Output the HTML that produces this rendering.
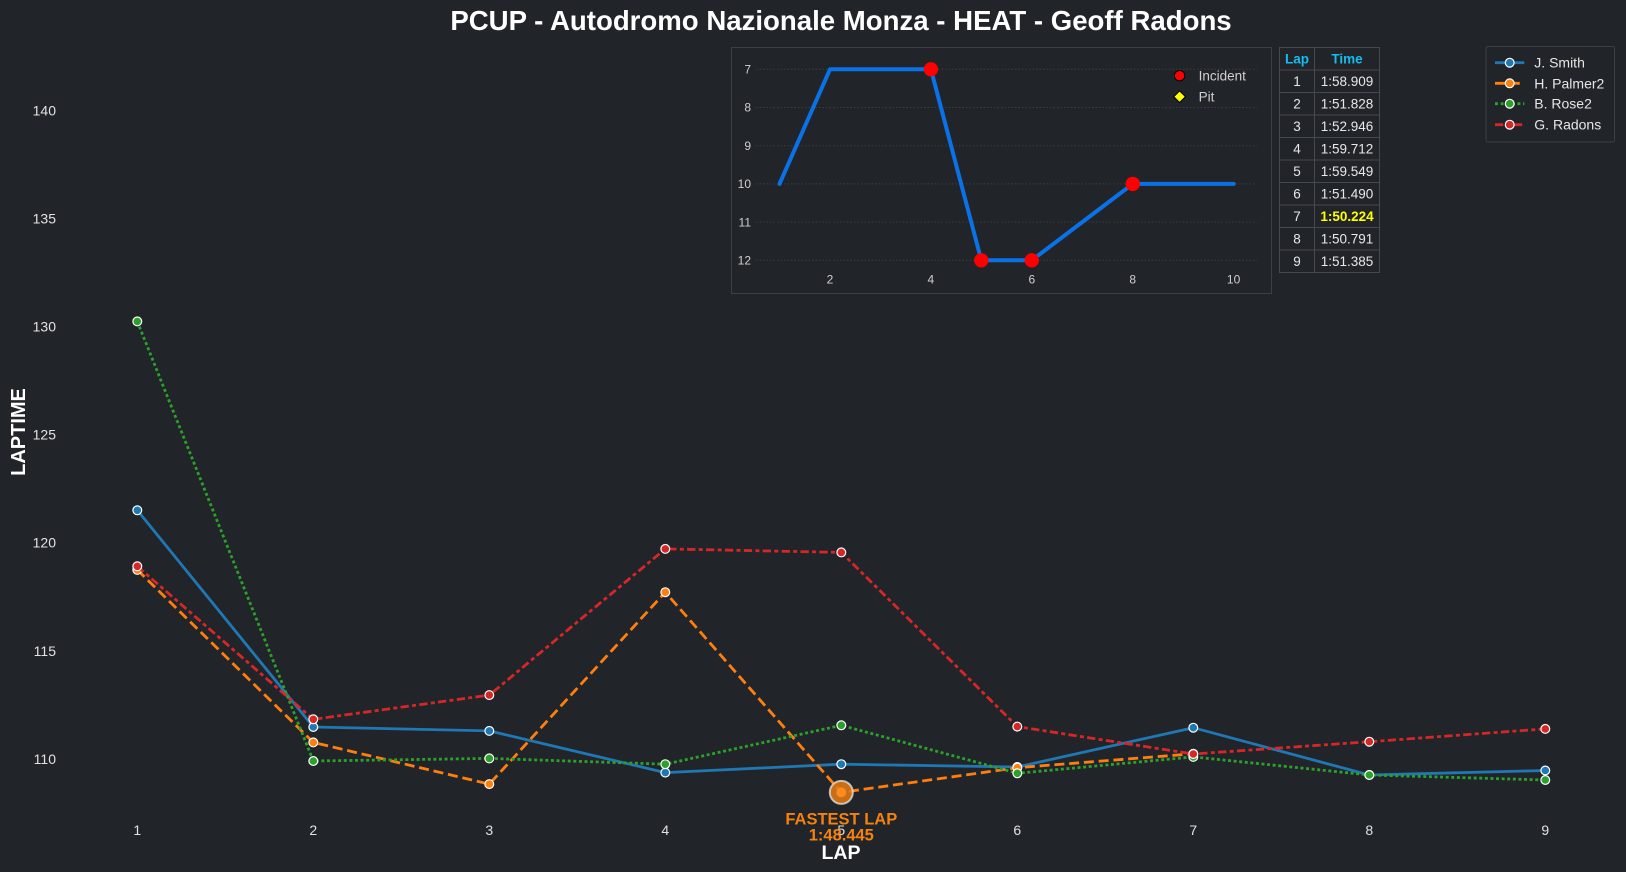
<!DOCTYPE html>
<html><head><meta charset="utf-8"><style>
html,body{margin:0;padding:0;background:#212428;}
svg{display:block;}
text{font-family:"Liberation Sans",Arial,sans-serif;}
</style></head><body>
<svg width="1626" height="872" viewBox="0 0 1626 872" xmlns="http://www.w3.org/2000/svg">
<rect x="0" y="0" width="1626" height="872" fill="#212428"/>
<!-- Title -->
<text x="841" y="30" text-anchor="middle" font-size="27.6" font-weight="bold" fill="#ffffff">PCUP - Autodromo Nazionale Monza - HEAT - Geoff Radons</text>

<!-- Y tick labels -->
<g font-size="14" fill="#e2e2e2" text-anchor="end">
<text x="56" y="763.8">110</text>
<text x="56" y="655.8">115</text>
<text x="56" y="547.7">120</text>
<text x="56" y="439.7">125</text>
<text x="56" y="331.6">130</text>
<text x="56" y="223.6">135</text>
<text x="56" y="115.5">140</text>
</g>
<!-- X tick labels -->
<g font-size="14" fill="#e2e2e2" text-anchor="middle">
<text x="137.3" y="835">1</text>
<text x="313.3" y="835">2</text>
<text x="489.3" y="835">3</text>
<text x="665.3" y="835">4</text>
<text x="841.3" y="835">5</text>
<text x="1017.3" y="835">6</text>
<text x="1193.3" y="835">7</text>
<text x="1369.3" y="835">8</text>
<text x="1545.3" y="835">9</text>
</g>
<text x="841" y="859" text-anchor="middle" font-size="19.5" font-weight="bold" fill="#ffffff">LAP</text>
<text x="25" y="432" text-anchor="middle" font-size="20" font-weight="bold" fill="#ffffff" transform="rotate(-90 25 432)">LAPTIME</text>

<!-- Series: J. Smith -->
<g>
<polyline fill="none" stroke="#1f77b4" stroke-width="2.8" stroke-linejoin="round" points="137.3,510.3 313.3,727.0 489.3,730.9 665.3,772.6 841.3,764.2 1017.3,767.0 1193.3,727.7 1369.3,775.0 1545.3,770.5"/>
<g fill="#1f77b4" stroke="#ffffff" stroke-width="1.2">
<circle cx="137.3" cy="510.3" r="4.4"/><circle cx="313.3" cy="727.0" r="4.4"/><circle cx="489.3" cy="730.9" r="4.4"/><circle cx="665.3" cy="772.6" r="4.4"/><circle cx="841.3" cy="764.2" r="4.4"/><circle cx="1017.3" cy="767.0" r="4.4"/><circle cx="1193.3" cy="727.7" r="4.4"/><circle cx="1369.3" cy="775.0" r="4.4"/><circle cx="1545.3" cy="770.5" r="4.4"/>
</g></g>
<!-- Series: H. Palmer2 -->
<g>
<polyline fill="none" stroke="#ff7f0e" stroke-width="2.8" stroke-dasharray="10 4.8" points="137.3,569.9 313.3,742.4 489.3,784.1 665.3,592.2 841.3,792.4 1017.3,767.7 1193.3,753.8"/>
<g fill="#ff7f0e" stroke="#ffffff" stroke-width="1.2">
<circle cx="137.3" cy="569.9" r="4.4"/><circle cx="313.3" cy="742.4" r="4.4"/><circle cx="489.3" cy="784.1" r="4.4"/><circle cx="665.3" cy="592.2" r="4.4"/><circle cx="841.3" cy="792.4" r="4.4"/><circle cx="1017.3" cy="767.7" r="4.4"/><circle cx="1193.3" cy="753.8" r="4.4"/>
</g></g>
<!-- Series: B. Rose2 -->
<g>
<polyline fill="none" stroke="#2ca02c" stroke-width="2.8" stroke-dasharray="3 2.6" points="137.3,321.4 313.3,761.0 489.3,758.4 665.3,764.2 841.3,725.3 1017.3,773.3 1193.3,756.9 1369.3,775.0 1545.3,780.0"/>
<g fill="#2ca02c" stroke="#ffffff" stroke-width="1.2">
<circle cx="137.3" cy="321.4" r="4.4"/><circle cx="313.3" cy="761.0" r="4.4"/><circle cx="489.3" cy="758.4" r="4.4"/><circle cx="665.3" cy="764.2" r="4.4"/><circle cx="841.3" cy="725.3" r="4.4"/><circle cx="1017.3" cy="773.3" r="4.4"/><circle cx="1193.3" cy="756.9" r="4.4"/><circle cx="1369.3" cy="775.0" r="4.4"/><circle cx="1545.3" cy="780.0" r="4.4"/>
</g></g>
<!-- Series: G. Radons -->
<g>
<polyline fill="none" stroke="#d62728" stroke-width="2.8" stroke-dasharray="8.3 3.3 4 3.3" points="137.3,566.3 313.3,719.3 489.3,695.1 665.3,548.9 841.3,552.4 1017.3,726.6 1193.3,754.0 1369.3,741.7 1545.3,728.9"/>
<g fill="#d62728" stroke="#ffffff" stroke-width="1.2">
<circle cx="137.3" cy="566.3" r="4.4"/><circle cx="313.3" cy="719.3" r="4.4"/><circle cx="489.3" cy="695.1" r="4.4"/><circle cx="665.3" cy="548.9" r="4.4"/><circle cx="841.3" cy="552.4" r="4.4"/><circle cx="1017.3" cy="726.6" r="4.4"/><circle cx="1193.3" cy="754.0" r="4.4"/><circle cx="1369.3" cy="741.7" r="4.4"/><circle cx="1545.3" cy="728.9" r="4.4"/>
</g></g>

<!-- Fastest lap marker -->
<circle cx="841.3" cy="792.4" r="11.5" fill="#e87a10" fill-opacity="0.85" stroke="#e8e8e8" stroke-opacity="0.75" stroke-width="2"/>
<circle cx="841.3" cy="792.4" r="4" fill="#ff8c1a"/>
<g font-size="16.5" font-weight="bold" fill="#f5820f" text-anchor="middle">
<text x="841.3" y="824.3">FASTEST LAP</text>
<text x="841.3" y="840.7">1:48.445</text>
</g>

<!-- Inset position chart -->
<rect x="731.5" y="47.5" width="540" height="246" fill="#212428" stroke="#3c3f44" stroke-width="1"/>
<g stroke="#3a3d42" stroke-width="1" stroke-dasharray="1.5 2">
<line x1="756" y1="69.3" x2="1257" y2="69.3"/>
<line x1="756" y1="107.5" x2="1257" y2="107.5"/>
<line x1="756" y1="145.7" x2="1257" y2="145.7"/>
<line x1="756" y1="183.9" x2="1257" y2="183.9"/>
<line x1="756" y1="222.1" x2="1257" y2="222.1"/>
<line x1="756" y1="260.3" x2="1257" y2="260.3"/>
</g>
<g font-size="12" fill="#cfcfcf" text-anchor="end">
<text x="751" y="73.5">7</text>
<text x="751" y="111.7">8</text>
<text x="751" y="149.9">9</text>
<text x="751" y="188.1">10</text>
<text x="751" y="226.3">11</text>
<text x="751" y="264.5">12</text>
</g>
<g font-size="12" fill="#cfcfcf" text-anchor="middle">
<text x="830" y="283.5">2</text>
<text x="930.9" y="283.5">4</text>
<text x="1031.8" y="283.5">6</text>
<text x="1132.7" y="283.5">8</text>
<text x="1233.6" y="283.5">10</text>
</g>
<polyline fill="none" stroke="#0a72e6" stroke-width="4" stroke-linejoin="round" stroke-linecap="round" points="779.5,183.9 830,69.3 880.4,69.3 930.9,69.3 981.3,260.3 1031.8,260.3 1082.2,222.1 1132.7,183.9 1183.1,183.9 1233.6,183.9"/>
<g fill="#ff0000">
<circle cx="930.9" cy="69.3" r="7.2"/>
<circle cx="981.3" cy="260.3" r="7.2"/>
<circle cx="1031.8" cy="260.3" r="7.2"/>
<circle cx="1132.7" cy="183.9" r="7.2"/>
</g>
<circle cx="1179.6" cy="75.7" r="5.2" fill="#ff0000" stroke="#000000" stroke-width="1"/>
<polygon points="1179.6,90.9 1185.4,96.7 1179.6,102.5 1173.8,96.7" fill="#ffff00" stroke="#000000" stroke-width="1"/>
<g font-size="13.5" fill="#cfcfcf">
<text x="1198.6" y="80.5">Incident</text>
<text x="1198.6" y="101.5">Pit</text>
</g>

<!-- Lap table -->
<g stroke="#46494e" stroke-width="1" fill="none">
<rect x="1279.5" y="47.5" width="100" height="225"/>
<line x1="1314.5" y1="47.5" x2="1314.5" y2="272.5"/>
<line x1="1279.5" y1="70" x2="1379.5" y2="70"/>
<line x1="1279.5" y1="92.5" x2="1379.5" y2="92.5"/>
<line x1="1279.5" y1="115" x2="1379.5" y2="115"/>
<line x1="1279.5" y1="137.5" x2="1379.5" y2="137.5"/>
<line x1="1279.5" y1="160" x2="1379.5" y2="160"/>
<line x1="1279.5" y1="182.5" x2="1379.5" y2="182.5"/>
<line x1="1279.5" y1="205" x2="1379.5" y2="205"/>
<line x1="1279.5" y1="227.5" x2="1379.5" y2="227.5"/>
<line x1="1279.5" y1="250" x2="1379.5" y2="250"/>
</g>
<g font-size="13.5" font-weight="bold" fill="#14bdf0" text-anchor="middle">
<text x="1297" y="63.5">Lap</text>
<text x="1347" y="63.5">Time</text>
</g>
<g font-size="13.5" fill="#e8e8e8" text-anchor="middle">
<text x="1297" y="86">1</text><text x="1347" y="86">1:58.909</text>
<text x="1297" y="108.5">2</text><text x="1347" y="108.5">1:51.828</text>
<text x="1297" y="131">3</text><text x="1347" y="131">1:52.946</text>
<text x="1297" y="153.5">4</text><text x="1347" y="153.5">1:59.712</text>
<text x="1297" y="176">5</text><text x="1347" y="176">1:59.549</text>
<text x="1297" y="198.5">6</text><text x="1347" y="198.5">1:51.490</text>
<text x="1297" y="221">7</text>
<text x="1297" y="243.5">8</text><text x="1347" y="243.5">1:50.791</text>
<text x="1297" y="266">9</text><text x="1347" y="266">1:51.385</text>
</g>
<text x="1347" y="221" font-size="13.5" font-weight="bold" fill="#ffff00" text-anchor="middle">1:50.224</text>

<!-- Legend -->
<rect x="1486" y="46.5" width="128.5" height="95.5" rx="2" fill="#212428" stroke="#3d4045" stroke-width="1"/>
<line x1="1495" y1="62.7" x2="1524.3" y2="62.7" stroke="#1f77b4" stroke-width="2.8"/>
<circle cx="1509.7" cy="62.7" r="4.4" fill="#1f77b4" stroke="#fff" stroke-width="1.2"/>
<line x1="1495" y1="83.3" x2="1524.3" y2="83.3" stroke="#ff7f0e" stroke-width="2.8" stroke-dasharray="10 4.8"/>
<circle cx="1509.7" cy="83.3" r="4.4" fill="#ff7f0e" stroke="#fff" stroke-width="1.2"/>
<line x1="1495" y1="103.7" x2="1524.3" y2="103.7" stroke="#2ca02c" stroke-width="2.8" stroke-dasharray="3 2.6"/>
<circle cx="1509.7" cy="103.7" r="4.4" fill="#2ca02c" stroke="#fff" stroke-width="1.2"/>
<line x1="1495" y1="124.7" x2="1524.3" y2="124.7" stroke="#d62728" stroke-width="2.8" stroke-dasharray="8.3 3.3 4 3.3"/>
<circle cx="1509.7" cy="124.7" r="4.4" fill="#d62728" stroke="#fff" stroke-width="1.2"/>
<g font-size="14" fill="#e6e6e6">
<text x="1534.3" y="67.7">J. Smith</text>
<text x="1534.3" y="88.3">H. Palmer2</text>
<text x="1534.3" y="108.7">B. Rose2</text>
<text x="1534.3" y="129.7">G. Radons</text>
</g>
</svg>
</body></html>
